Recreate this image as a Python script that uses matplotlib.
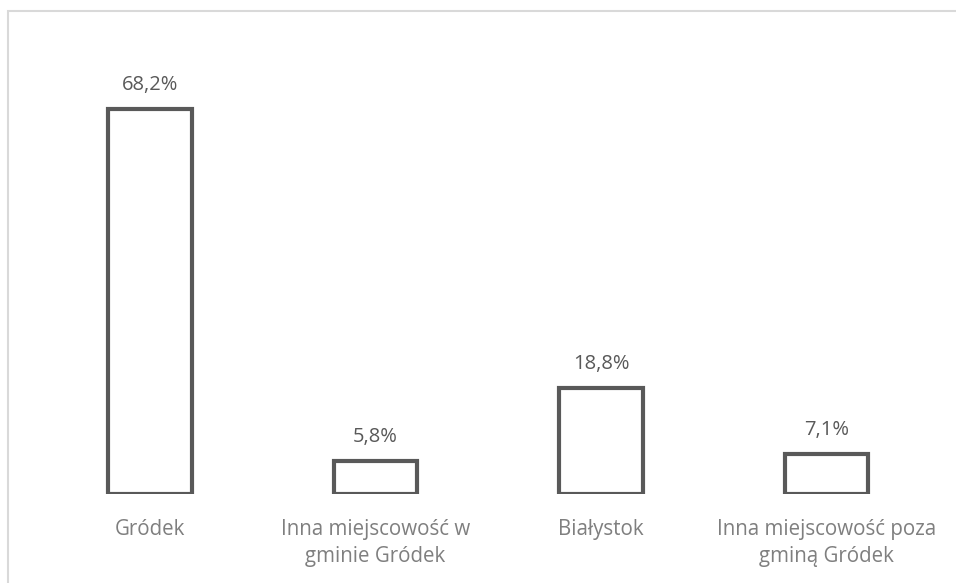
import matplotlib
matplotlib.use("Agg")
import matplotlib.pyplot as plt
from matplotlib.patches import Rectangle

plt.rcParams['font.family'] = ['Open Sans', 'DejaVu Sans']

categories = ['Gródek', 'Inna miejscowość w\ngminie Gródek',
              'Białystok', 'Inna miejscowość poza\ngminą Gródek']
values = [68.2, 5.8, 18.8, 7.1]
value_labels = ['68,2%', '5,8%', '18,8%', '7,1%']

edge = '#595959'

fig = plt.figure(figsize=(9.56, 5.83), dpi=100)
# light chart-area border (only top/left visible in the crop)
fig.patches.append(Rectangle((8 / 956, -0.1), 1.2, (583 - 11) / 583 + 0.1,
                             transform=fig.transFigure, fill=False,
                             edgecolor='#d9d9d9', lw=1.5))

ax = fig.add_axes([37.5 / 956, 89 / 583, 901.5 / 956, 423 / 583])
x = range(len(categories))
ax.bar(x, values, width=0.37, facecolor='white', edgecolor=edge, linewidth=3)

for xi, v, lab in zip(x, values, value_labels):
    ax.annotate(lab, (xi, v), xytext=(0, 10), textcoords='offset points',
                ha='center', va='bottom', fontsize=14.5, color=edge)

ax.set_xlim(-0.5, len(categories) - 0.5)
ax.set_ylim(0, 75)
ax.set_xticks(list(x))
ax.set_xticklabels(categories, fontsize=14.8, color='#7f7f7f',
                   linespacing=1.4)
ax.tick_params(axis='x', length=0, pad=18)
ax.set_yticks([])
for s in ax.spines.values():
    s.set_visible(False)

fig.savefig('out.png', dpi=100)
